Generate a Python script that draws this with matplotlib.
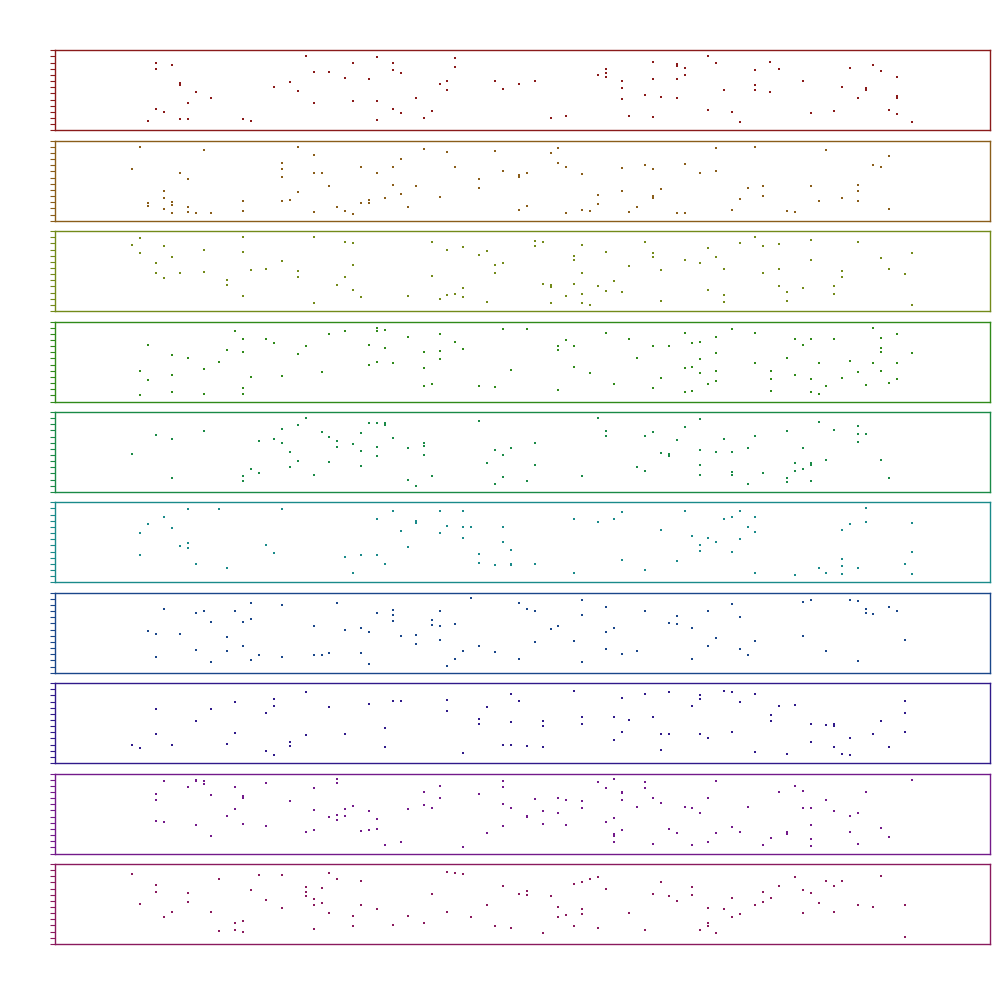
import colorsys

import matplotlib
matplotlib.use("Agg")
import matplotlib.pyplot as plt
import numpy as np

# Scatter values per panel, (x, y).
panel_1 = [(9.1, 2.8), (10.6, 20.2), (10.6, 18.4), (10.6, 6.4), (12.1, 5.5), (13.6, 19.6), (15.1, 14.3), (15.1, 13.6),
           (15.1, 3.4), (16.6, 8.2), (16.6, 3.4), (18.1, 11.5), (21.0, 9.7), (27.0, 3.4), (28.5, 2.8), (32.9, 13.0),
           (35.9, 14.5), (37.4, 11.8), (38.9, 22.3), (40.4, 17.5), (40.4, 8.2), (43.3, 17.5), (46.3, 15.7), (47.8, 20.2),
           (47.8, 8.8), (50.8, 15.4), (52.2, 22.0), (52.2, 8.8), (52.2, 3.1), (55.2, 20.2), (55.2, 18.1), (55.2, 6.4),
           (56.7, 17.2), (56.7, 5.2), (59.7, 9.7), (61.2, 3.7), (62.7, 5.8), (64.1, 13.9), (65.5, 14.8), (65.5, 12.1),
           (67.0, 21.7), (67.0, 19.0), (74.5, 14.8), (76.0, 12.4), (79.0, 13.9), (82.0, 14.8), (85.0, 3.7), (88.0, 4.3),
           (93.9, 16.6), (95.4, 18.4), (95.4, 17.2), (95.4, 16.0), (98.4, 14.8), (98.4, 12.7), (98.4, 9.4), (99.9, 4.3),
           (102.8, 10.6), (104.3, 20.5), (104.3, 15.4), (104.3, 4.0), (105.8, 10.0), (108.8, 19.9), (108.8, 19.3),
           (108.8, 15.4), (108.8, 9.7), (110.3, 18.7), (110.3, 16.6), (114.7, 22.3), (114.7, 6.1), (116.2, 20.2),
           (117.7, 12.1), (119.2, 5.5), (120.7, 2.5), (123.5, 18.1), (123.5, 13.6), (123.5, 12.1), (126.5, 20.5),
           (126.5, 11.5), (128.1, 18.4), (132.6, 14.8), (134.1, 5.2), (138.5, 5.8), (140.0, 13.0), (141.5, 18.7),
           (143.0, 9.7), (144.5, 12.7), (144.5, 12.1), (145.9, 19.6), (147.4, 17.8), (148.9, 6.1), (150.4, 16.0),
           (150.4, 10.3), (150.4, 9.7), (150.4, 4.9), (153.3, 2.5)]

panel_2 = [(7.6, 22.2), (6.1, 15.6), (19.6, 21.3), (15.1, 14.4), (16.6, 12.6), (12.1, 9.0), (12.1, 6.9), (12.1, 3.6),
           (9.1, 5.4), (9.1, 4.5), (13.6, 5.7), (13.6, 4.8), (13.6, 2.4), (16.6, 4.2), (16.6, 2.7), (18.1, 2.4),
           (21.0, 2.4), (27.0, 6.0), (27.0, 3.0), (37.4, 22.2), (40.4, 19.8), (34.4, 17.4), (34.4, 15.6), (34.4, 13.2),
           (34.4, 6.0), (35.9, 6.3), (37.4, 8.7), (40.4, 14.4), (41.9, 14.4), (43.3, 10.5), (40.4, 2.7), (44.8, 4.2),
           (46.3, 3.0), (47.8, 2.1), (49.3, 16.2), (49.3, 5.4), (50.8, 6.3), (50.8, 5.4), (52.2, 14.4), (53.8, 6.9),
           (55.2, 16.2), (55.2, 10.8), (56.7, 18.6), (56.7, 8.1), (58.2, 4.2), (59.7, 10.5), (61.2, 21.6), (64.1, 7.2),
           (65.5, 20.7), (67.0, 16.2), (71.5, 12.6), (71.5, 9.9), (74.5, 21.0), (76.0, 15.0), (79.0, 13.8), (79.0, 13.2),
           (79.0, 3.3), (80.5, 14.4), (80.5, 4.5), (85.0, 20.4), (86.5, 21.9), (86.5, 17.4), (88.0, 16.2), (88.0, 2.4),
           (90.9, 14.1), (90.9, 3.3), (92.4, 3.0), (93.9, 7.8), (93.9, 5.1), (98.4, 15.9), (98.4, 9.0), (99.9, 2.7),
           (101.3, 4.2), (102.8, 16.8), (104.3, 15.6), (104.3, 7.5), (104.3, 6.9), (105.8, 9.6), (108.8, 2.4),
           (110.3, 17.1), (110.3, 2.4), (113.2, 14.4), (116.2, 21.9), (116.2, 15.0), (119.2, 3.3), (120.7, 6.6),
           (122.2, 9.9), (123.5, 22.2), (125.0, 10.5), (125.0, 7.5), (129.6, 3.0), (131.1, 2.7), (134.1, 10.5),
           (135.6, 6.0), (137.0, 21.3), (140.0, 6.9), (143.0, 10.8), (143.0, 9.0), (143.0, 6.0), (145.9, 16.8),
           (147.4, 16.2), (148.9, 19.5), (148.9, 3.6)]

panel_3 = [(7.6, 22.0), (6.1, 19.9), (7.6, 17.5), (12.1, 19.6), (13.6, 16.3), (10.6, 14.5), (10.6, 11.5), (12.1, 10.0),
           (15.1, 11.5), (19.6, 18.4), (19.6, 11.8), (24.0, 9.4), (24.0, 7.9), (27.0, 22.3), (27.0, 17.8), (27.0, 4.6),
           (28.5, 12.4), (31.4, 12.7), (34.4, 15.1), (37.4, 12.1), (37.4, 10.3), (40.4, 22.3), (40.4, 2.5), (44.8, 7.9),
           (46.3, 20.8), (46.3, 10.3), (47.8, 20.5), (47.8, 13.9), (47.8, 6.4), (49.3, 4.3), (58.2, 4.6), (62.7, 20.8),
           (62.7, 10.6), (64.1, 3.7), (65.5, 18.4), (65.5, 4.9), (67.0, 5.2), (68.5, 19.3), (68.5, 7.0), (68.5, 4.3),
           (71.5, 16.9), (73.0, 18.1), (73.0, 2.8), (74.5, 13.9), (74.5, 11.5), (76.0, 14.5), (82.0, 21.1), (82.0, 19.6),
           (83.5, 20.8), (83.5, 8.2), (85.0, 7.9), (85.0, 7.3), (85.0, 2.5), (88.0, 4.6), (89.4, 16.6), (89.4, 15.4),
           (89.4, 8.2), (90.9, 19.9), (90.9, 11.5), (90.9, 5.2), (90.9, 2.5), (92.4, 1.9), (93.9, 7.6), (95.4, 17.8),
           (95.4, 6.1), (96.9, 9.1), (98.4, 5.8), (99.9, 13.6), (102.8, 20.8), (104.3, 17.5), (104.3, 16.3),
           (105.8, 12.4), (105.8, 3.1), (110.3, 15.4), (113.2, 14.5), (114.7, 19.0), (114.7, 6.4), (116.2, 16.3),
           (117.7, 12.7), (117.7, 4.9), (117.7, 2.8), (120.7, 20.5), (123.5, 22.3), (125.0, 19.6), (125.0, 11.5),
           (128.1, 20.2), (128.1, 12.7), (128.1, 7.6), (129.6, 5.8), (129.6, 3.1), (132.6, 7.0), (134.1, 21.4),
           (134.1, 15.4), (138.5, 7.6), (138.5, 5.2), (140.0, 12.1), (140.0, 10.3), (143.0, 20.8), (147.4, 16.0),
           (148.9, 12.7), (151.9, 11.2), (153.3, 17.5), (153.3, 1.9)]

panel_4 = [(25.5, 21.3), (9.1, 17.1), (13.6, 14.1), (16.6, 13.2), (7.6, 9.3), (9.1, 6.6), (13.6, 8.1), (7.6, 2.1),
           (13.6, 3.0), (19.6, 9.9), (19.6, 2.4), (22.5, 12.0), (24.0, 15.6), (27.0, 18.9), (27.0, 15.0), (27.0, 4.2),
           (27.0, 2.4), (28.5, 7.5), (31.4, 18.9), (32.9, 17.7), (34.4, 7.8), (37.4, 14.4), (38.9, 16.8), (41.9, 9.0),
           (43.3, 20.4), (46.3, 21.3), (50.8, 17.1), (50.8, 11.1), (52.2, 22.2), (52.2, 21.3), (53.8, 21.6),
           (53.8, 16.2), (52.2, 12.0), (55.2, 11.7), (58.2, 19.5), (61.2, 15.0), (61.2, 10.2), (61.2, 4.8), (62.7, 5.4),
           (64.1, 20.4), (64.1, 15.3), (64.1, 12.9), (67.0, 18.0), (68.5, 15.9), (71.5, 4.8), (74.5, 4.5), (76.0, 21.9),
           (77.5, 9.6), (80.5, 21.9), (86.5, 16.8), (86.5, 15.6), (86.5, 3.6), (88.0, 18.6), (89.4, 16.8), (89.4, 10.5),
           (92.4, 8.7), (95.4, 20.7), (96.9, 5.4), (99.9, 18.9), (101.3, 13.2), (104.3, 16.8), (104.3, 4.2),
           (105.8, 7.2), (107.3, 16.8), (110.3, 20.7), (110.3, 10.2), (110.3, 3.0), (111.7, 17.7), (111.7, 10.5),
           (111.7, 3.3), (113.2, 18.0), (113.2, 12.9), (113.2, 8.7), (114.7, 5.4), (116.2, 19.5), (116.2, 14.7),
           (116.2, 9.3), (116.2, 6.3), (119.2, 21.9), (123.5, 20.7), (123.5, 11.7), (126.6, 9.3), (126.6, 6.9),
           (126.6, 3.3), (129.6, 13.2), (131.1, 18.9), (131.1, 8.1), (132.6, 17.1), (134.1, 18.9), (134.1, 6.9),
           (134.1, 3.0), (135.6, 11.7), (135.6, 2.4), (137.0, 4.8), (138.5, 18.9), (140.0, 7.2), (141.5, 12.3),
           (143.0, 9.0), (144.5, 5.1), (145.9, 22.2), (145.9, 11.7), (147.4, 19.2), (147.4, 16.2), (147.4, 15.0),
           (147.4, 9.3), (148.9, 5.7), (150.4, 20.4), (150.4, 11.7), (150.4, 6.9), (153.3, 14.7)]

panel_5 = [(38.9, 22.3), (50.8, 20.8), (52.2, 20.8), (53.8, 20.8), (53.8, 20.2), (71.5, 21.4), (93.9, 22.3),
           (113.2, 22.0), (135.6, 21.1), (143.0, 19.9), (10.6, 17.2), (13.6, 16.0), (19.6, 18.4), (6.1, 11.5),
           (13.6, 4.3), (27.0, 4.9), (27.0, 3.4), (28.5, 7.0), (30.0, 5.8), (30.0, 15.4), (32.9, 16.0), (34.4, 19.0),
           (34.4, 14.8), (37.4, 20.2), (35.9, 12.1), (37.4, 9.4), (35.9, 7.6), (40.4, 5.2), (41.9, 18.1), (43.3, 16.6),
           (44.8, 15.4), (44.8, 13.6), (43.3, 9.1), (47.8, 14.5), (49.3, 17.8), (49.3, 12.4), (49.3, 7.9), (52.2, 13.6),
           (52.2, 10.9), (55.2, 16.3), (58.2, 13.3), (58.2, 3.7), (59.7, 1.9), (61.2, 14.8), (61.2, 13.9), (61.2, 11.2),
           (62.7, 4.9), (73.0, 8.8), (74.5, 12.7), (74.5, 2.5), (76.0, 11.2), (76.0, 4.6), (77.5, 13.3), (80.5, 3.4),
           (82.0, 14.8), (82.0, 8.2), (90.9, 4.9), (95.4, 18.4), (95.4, 16.9), (101.3, 7.6), (102.8, 16.9), (102.8, 6.4),
           (104.3, 18.1), (105.8, 11.8), (107.3, 11.5), (107.3, 10.9), (108.8, 15.7), (110.3, 19.6), (113.2, 12.7),
           (113.2, 8.2), (113.2, 5.2), (116.2, 12.1), (117.7, 16.0), (119.2, 12.1), (119.2, 6.1), (119.2, 5.2),
           (122.2, 13.3), (122.2, 2.5), (123.5, 16.9), (125.0, 5.8), (129.6, 18.4), (129.6, 4.3), (129.6, 3.1),
           (131.1, 8.8), (131.1, 6.4), (132.6, 13.3), (132.6, 7.0), (134.1, 8.8), (134.1, 8.2), (134.1, 3.4),
           (137.0, 9.7), (138.5, 18.7), (143.0, 17.5), (143.0, 15.1), (144.5, 17.5), (147.4, 9.7), (148.9, 4.3)]

panel_6 = [(16.6, 21.9), (22.5, 21.9), (34.4, 21.9), (12.1, 19.5), (9.1, 17.4), (7.6, 14.7), (13.6, 16.2), (7.6, 8.1),
           (15.1, 10.8), (16.6, 11.7), (16.6, 10.2), (18.1, 5.4), (24.0, 4.2), (31.4, 11.1), (32.9, 8.7), (46.3, 7.5),
           (47.8, 2.7), (49.3, 8.1), (52.2, 18.9), (52.2, 8.1), (53.8, 5.4), (55.2, 21.3), (56.7, 15.3), (58.2, 10.5),
           (59.7, 18.3), (59.7, 17.7), (64.1, 21.3), (64.1, 14.7), (65.5, 16.8), (68.5, 21.3), (68.5, 16.5),
           (68.5, 13.2), (70.0, 16.5), (71.5, 8.4), (71.5, 5.7), (74.5, 5.1), (76.0, 16.5), (76.0, 12.0), (77.5, 9.6),
           (77.5, 5.4), (77.5, 5.1), (82.0, 5.4), (89.4, 18.9), (89.4, 2.7), (93.9, 18.0), (96.9, 18.9), (98.4, 21.0),
           (98.4, 6.6), (102.8, 3.6), (105.8, 15.6), (108.8, 6.3), (110.3, 21.3), (111.7, 13.8), (113.2, 11.1),
           (113.2, 9.3), (114.7, 13.2), (116.2, 12.0), (117.7, 18.9), (119.2, 19.5), (119.2, 9.0), (120.7, 21.3),
           (120.7, 12.9), (122.2, 16.5), (123.5, 19.5), (123.5, 15.0), (123.5, 2.7), (131.1, 2.1), (135.6, 4.2),
           (137.0, 2.7), (140.0, 15.6), (140.0, 6.9), (140.0, 4.8), (140.0, 2.4), (141.5, 17.4), (143.0, 4.2),
           (144.5, 22.2), (144.5, 18.0), (151.9, 5.4), (153.3, 17.7), (153.3, 9.0), (153.3, 2.4)]

panel_7 = [(12.1, 19.0), (9.1, 12.4), (10.6, 11.5), (10.6, 4.6), (15.1, 11.5), (18.1, 17.8), (19.6, 18.4), (18.1, 6.7),
           (21.0, 15.1), (21.0, 3.1), (24.0, 10.6), (24.0, 6.4), (25.5, 18.4), (27.0, 15.1), (27.0, 7.9), (28.5, 20.8),
           (28.5, 16.0), (28.5, 3.7), (30.0, 5.2), (34.4, 20.2), (34.4, 4.6), (40.4, 13.9), (40.4, 5.2), (41.9, 5.2),
           (43.3, 5.8), (44.8, 20.8), (46.3, 12.7), (49.3, 13.3), (49.3, 5.8), (50.8, 12.1), (50.8, 2.5), (52.2, 17.8),
           (55.2, 18.7), (55.2, 17.2), (55.2, 15.4), (56.7, 10.9), (59.7, 11.2), (59.7, 8.5), (62.7, 15.7), (62.7, 14.2),
           (64.1, 18.4), (64.1, 13.9), (64.1, 9.7), (65.5, 1.9), (67.0, 14.5), (67.0, 4.0), (68.5, 6.4), (70.0, 22.3),
           (71.5, 7.9), (74.5, 6.1), (79.0, 20.8), (79.0, 4.0), (80.5, 19.0), (82.0, 18.4), (82.0, 9.1), (85.0, 13.0),
           (86.5, 13.9), (89.4, 9.4), (90.9, 21.7), (90.9, 17.2), (90.9, 3.1), (95.4, 19.6), (95.4, 12.1), (95.4, 7.0),
           (96.9, 13.3), (98.4, 5.5), (101.3, 6.4), (102.8, 18.4), (107.3, 14.8), (108.8, 16.9), (108.8, 14.5),
           (111.7, 13.3), (111.7, 4.0), (114.7, 18.4), (114.7, 7.9), (116.2, 10.3), (119.2, 20.5), (120.7, 16.6),
           (120.7, 7.0), (122.2, 5.2), (123.5, 9.4), (132.6, 21.1), (132.6, 10.9), (134.1, 21.7), (137.0, 6.4),
           (141.5, 21.7), (143.0, 21.4), (143.0, 3.4), (144.5, 19.0), (144.5, 17.8), (145.9, 17.5), (148.9, 19.6),
           (150.4, 18.4), (151.9, 9.7)]

panel_8 = [(38.9, 21.3), (32.9, 19.2), (32.9, 17.1), (25.5, 18.3), (10.6, 16.2), (21.0, 16.2), (31.4, 15.0),
           (18.1, 12.6), (10.6, 8.7), (25.5, 9.0), (6.1, 5.4), (7.6, 4.5), (13.6, 5.4), (24.0, 5.7), (35.9, 6.3),
           (35.9, 5.1), (31.4, 3.6), (32.9, 2.4), (38.9, 8.4), (43.3, 16.8), (46.3, 8.7), (50.8, 17.7), (53.8, 10.5),
           (53.8, 4.8), (55.2, 18.6), (56.7, 18.6), (65.5, 18.9), (65.5, 15.6), (68.5, 3.0), (71.5, 13.2), (71.5, 11.7),
           (73.0, 16.8), (76.0, 5.4), (77.5, 20.7), (77.5, 12.3), (77.5, 5.4), (79.0, 18.6), (80.5, 5.1), (83.5, 12.6),
           (83.5, 11.1), (83.5, 4.8), (89.4, 21.6), (90.9, 13.8), (90.9, 11.7), (96.9, 13.8), (96.9, 6.9), (98.4, 19.5),
           (98.4, 9.3), (99.9, 12.9), (102.8, 20.7), (104.3, 13.8), (105.8, 8.7), (105.8, 3.9), (107.3, 21.3),
           (107.3, 8.7), (111.7, 17.1), (113.2, 20.4), (113.2, 19.2), (113.2, 8.7), (114.7, 7.5), (117.7, 21.6),
           (119.2, 21.3), (119.2, 9.3), (120.7, 18.3), (123.5, 20.7), (123.5, 3.3), (126.6, 14.4), (126.6, 12.6),
           (128.1, 17.1), (129.6, 2.7), (131.1, 17.4), (134.1, 11.7), (134.1, 6.3), (137.0, 11.4), (138.5, 11.7),
           (138.5, 11.1), (138.5, 4.8), (140.0, 2.7), (141.5, 7.5), (141.5, 2.4), (145.9, 8.7), (147.4, 12.6),
           (148.9, 4.8), (151.9, 18.6), (151.9, 15.0), (151.9, 9.3)]

panel_9 = [(12.1, 21.7), (18.1, 22.0), (18.1, 21.7), (19.6, 21.7), (19.6, 20.8), (16.6, 19.9), (10.6, 17.8),
           (10.6, 16.0), (21.0, 17.5), (25.5, 19.9), (27.0, 17.2), (27.0, 16.6), (31.4, 21.1), (35.9, 15.7), (25.5, 13.3),
           (24.0, 11.2), (27.0, 8.8), (31.4, 8.2), (10.6, 9.7), (12.1, 9.4), (18.1, 8.5), (21.0, 5.2), (40.4, 19.6),
           (44.8, 22.3), (44.8, 21.1), (40.4, 13.0), (38.9, 6.4), (40.4, 7.0), (43.3, 10.9), (44.8, 11.5), (44.8, 10.0),
           (46.3, 13.3), (46.3, 11.2), (47.8, 14.2), (49.3, 6.7), (50.8, 12.7), (50.8, 7.0), (52.2, 10.3), (52.2, 7.3),
           (53.8, 2.5), (56.7, 3.4), (58.2, 13.3), (61.2, 18.4), (61.2, 14.5), (62.7, 13.6), (64.1, 20.2), (64.1, 16.6),
           (68.5, 1.9), (71.5, 17.8), (73.0, 6.1), (76.0, 21.7), (76.0, 19.9), (76.0, 14.8), (76.0, 8.2), (77.5, 13.6),
           (80.5, 11.2), (80.5, 10.9), (82.0, 16.3), (83.5, 12.7), (83.5, 8.8), (86.5, 16.6), (86.5, 12.1), (88.0, 16.0),
           (88.0, 8.5), (90.9, 15.7), (90.9, 13.6), (93.9, 21.4), (95.4, 19.6), (95.4, 9.4), (96.9, 22.3), (96.9, 10.6),
           (96.9, 5.8), (96.9, 5.2), (96.9, 3.4), (98.4, 18.4), (98.4, 18.1), (98.4, 16.0), (98.4, 7.0), (101.3, 13.9),
           (102.8, 21.4), (102.8, 19.6), (104.3, 16.6), (104.3, 2.8), (105.8, 15.1), (107.3, 7.3), (108.8, 6.1),
           (110.3, 13.9), (111.7, 13.6), (111.7, 2.5), (113.2, 12.1), (114.7, 16.6), (114.7, 3.4), (116.2, 21.7),
           (116.2, 6.1), (119.2, 7.9), (120.7, 6.4), (122.2, 13.9), (125.0, 2.5), (126.6, 4.6), (128.1, 18.4),
           (129.6, 6.4), (129.6, 5.8), (131.1, 20.2), (132.6, 18.7), (132.6, 13.6), (134.1, 13.6), (134.1, 8.5),
           (134.1, 4.3), (134.1, 2.2), (137.0, 16.0), (138.5, 12.7), (141.5, 11.2), (141.5, 6.4), (143.0, 12.1),
           (143.0, 2.8), (144.5, 18.4), (147.4, 7.6), (148.9, 4.9), (153.3, 22.0)]

panel_10 = [(6.1, 21.0), (10.6, 17.7), (10.6, 15.6), (7.6, 12.0), (13.6, 9.6), (12.1, 8.1), (16.6, 15.3), (16.6, 12.6),
            (21.0, 9.6), (22.5, 19.5), (22.5, 3.9), (25.5, 6.3), (25.5, 4.2), (27.0, 6.9), (27.0, 3.6), (28.5, 16.2),
            (30.0, 20.7), (31.4, 13.2), (34.4, 20.7), (34.4, 10.8), (38.9, 17.1), (38.9, 15.6), (38.9, 14.4),
            (40.4, 13.5), (40.4, 11.7), (41.9, 16.8), (41.9, 12.3), (40.4, 4.5), (43.3, 21.3), (44.8, 19.5), (43.3, 9.3),
            (47.8, 8.4), (47.8, 5.4), (49.3, 18.9), (49.3, 11.7), (52.2, 10.5), (55.2, 5.7), (58.2, 8.4), (61.2, 6.3),
            (62.7, 15.0), (65.5, 21.6), (67.0, 21.3), (68.5, 21.0), (65.5, 9.6), (70.0, 8.1), (73.0, 11.7), (74.5, 5.4),
            (76.0, 17.4), (77.5, 4.8), (79.0, 15.0), (80.5, 15.9), (80.5, 14.7), (83.5, 3.3), (85.0, 14.4), (86.5, 11.1),
            (86.5, 8.1), (88.0, 8.7), (89.4, 18.0), (89.4, 5.4), (90.9, 18.6), (90.9, 10.5), (90.9, 9.0), (92.4, 19.5),
            (93.9, 20.1), (93.9, 4.8), (95.4, 16.5), (99.9, 9.3), (102.8, 4.2), (104.3, 15.0), (105.8, 18.6),
            (107.3, 14.4), (108.8, 12.9), (111.7, 17.1), (111.7, 14.7), (113.2, 4.2), (114.7, 10.8), (114.7, 6.3),
            (114.7, 5.4), (116.2, 3.3), (117.7, 10.5), (119.2, 13.8), (119.2, 8.1), (120.7, 9.0), (123.5, 11.7),
            (125.0, 15.6), (125.0, 12.6), (126.6, 13.8), (128.1, 17.4), (131.1, 20.1), (132.6, 16.2), (132.6, 9.3),
            (134.1, 15.3), (135.6, 12.3), (137.0, 18.9), (138.5, 17.4), (138.5, 9.6), (140.0, 18.9), (143.0, 11.7),
            (145.9, 11.1), (147.4, 20.4), (151.9, 11.7), (151.9, 2.1)]

panels = [panel_1, panel_2, panel_3, panel_4, panel_5,
          panel_6, panel_7, panel_8, panel_9, panel_10]

X_LIMITS = (-8.49, 167.98)
Y_LIMITS = (0, 24)
N_YTICKS = 14

fig = plt.figure(figsize=(10, 10), dpi=100)

# Panels are stacked top to bottom, each one a different hue.
for index, points in enumerate(panels):
    color = colorsys.hsv_to_rgb(index / 10, 0.81, 0.54)
    top_px = 50.3 + 90.4 * index
    ax = fig.add_axes([0.055, 1 - (top_px + 80) / 1000, 0.9353, 0.080])

    xy = np.array(points)
    ax.scatter(xy[:, 0], xy[:, 1], marker='s', s=2.0, color=color,
               linewidths=0)

    ax.set_xlim(X_LIMITS)
    ax.set_ylim(Y_LIMITS)
    ax.set_xticks([])
    ax.set_yticks(np.linspace(Y_LIMITS[0], Y_LIMITS[1], N_YTICKS))
    ax.tick_params(axis='y', direction='out', length=3.6, width=0.8,
                   color=color, labelleft=False)
    for spine in ax.spines.values():
        spine.set_color(color)
        spine.set_linewidth(1.0)

fig.savefig("out.png", dpi=100)
